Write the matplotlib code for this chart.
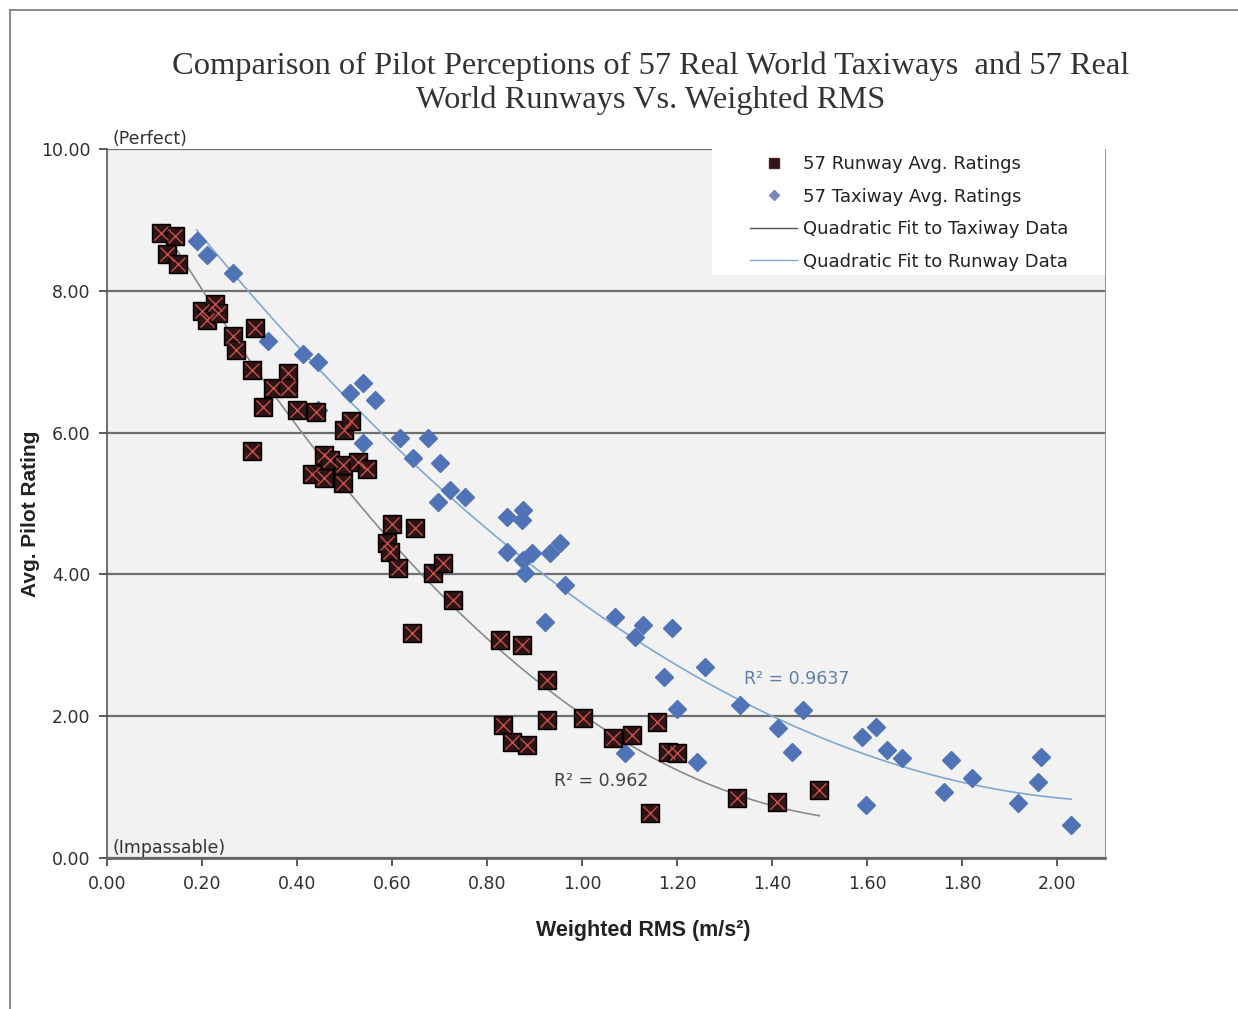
import matplotlib.pyplot as plt
from matplotlib.lines import Line2D
from matplotlib.patches import Rectangle
import numpy as np

# Runway ratings
runway_rms = [0.114, 0.143, 0.126, 0.149, 0.200, 0.227, 0.210, 0.233, 0.265, 0.271,
              0.311, 0.305, 0.349, 0.381, 0.381, 0.328, 0.400, 0.305, 0.440, 0.498,
              0.513, 0.431, 0.456, 0.456, 0.469, 0.496, 0.496, 0.528, 0.547, 0.599,
              0.648, 0.589, 0.595, 0.612, 0.686, 0.707, 0.728, 0.641, 0.826, 0.873,
              0.925, 0.833, 0.852, 0.883, 0.925, 1.001, 1.064, 1.104, 1.157, 1.180,
              1.199, 1.142, 1.325, 1.409, 1.499]
runway_rating = [8.82, 8.77, 8.52, 8.38, 7.72, 7.81, 7.59, 7.69, 7.36, 7.16,
                 7.48, 6.88, 6.63, 6.84, 6.63, 6.36, 6.32, 5.74, 6.29, 6.04,
                 6.16, 5.42, 5.36, 5.68, 5.61, 5.29, 5.54, 5.59, 5.49, 4.71,
                 4.65, 4.44, 4.32, 4.09, 4.02, 4.16, 3.64, 3.17, 3.07, 3.00,
                 2.51, 1.88, 1.64, 1.59, 1.95, 1.97, 1.69, 1.73, 1.92, 1.50,
                 1.48, 0.63, 0.85, 0.79, 0.96]

# Taxiway ratings
taxi_rms = [0.189, 0.210, 0.265, 0.339, 0.412, 0.444, 0.511, 0.538, 0.564, 0.444,
            0.538, 0.616, 0.675, 0.644, 0.700, 0.721, 0.696, 0.753, 0.841, 0.875,
            0.873, 0.841, 0.875, 0.894, 0.932, 0.953, 0.879, 0.963, 0.921, 1.068,
            1.127, 1.110, 1.188, 1.258, 1.173, 1.199, 1.089, 1.241, 1.331, 1.411,
            1.464, 1.441, 1.588, 1.619, 1.642, 1.672, 1.598, 1.777, 1.762, 1.821,
            1.916, 1.966, 1.958, 2.029]
taxi_rating = [8.70, 8.50, 8.25, 7.29, 7.11, 7.00, 6.56, 6.70, 6.46, 6.32,
               5.85, 5.92, 5.92, 5.64, 5.57, 5.19, 5.02, 5.09, 4.81, 4.91,
               4.77, 4.32, 4.20, 4.30, 4.30, 4.44, 4.02, 3.85, 3.33, 3.40,
               3.29, 3.12, 3.24, 2.69, 2.55, 2.10, 1.48, 1.35, 2.16, 1.83,
               2.09, 1.50, 1.71, 1.85, 1.52, 1.41, 0.75, 1.38, 0.93, 1.13,
               0.78, 1.42, 1.07, 0.47]

x_ticks = [0.0, 0.2, 0.4, 0.6, 0.8, 1.0, 1.2, 1.4, 1.6, 1.8, 2.0]
y_ticks = [0, 2, 4, 6, 8, 10]

RUNWAY_FACE = "#2e1414"
RUNWAY_X = "#c8504a"
TAXI_BLUE = "#4f73b6"
FIT_GREY = "#8a8a8a"
FIT_BLUE = "#7ea8d2"

fig = plt.figure(figsize=(12.38, 10.09), dpi=100)
ax = fig.add_axes([107 / 1238, 1 - 858 / 1009, 998 / 1238, 709 / 1009])
ax.set_facecolor("#f2f2f2")

# quadratic fits from the data
def quad_fit(x, y):
    coef = np.polyfit(x, y, 2)
    xs = np.linspace(min(x), max(x), 200)
    return xs, np.polyval(coef, xs)

rx, ry = quad_fit(runway_rms, runway_rating)
tx, ty = quad_fit(taxi_rms, taxi_rating)
ax.plot(rx, ry, color=FIT_GREY, lw=1.2, zorder=3)
ax.plot(tx, ty, color=FIT_BLUE, lw=1.2, zorder=3)

ax.plot(taxi_rms, taxi_rating, linestyle="none", marker="D", ms=9,
        color=TAXI_BLUE, mec=TAXI_BLUE, zorder=4)
ax.plot(runway_rms, runway_rating, linestyle="none", marker="s", ms=13,
        mfc=RUNWAY_FACE, mec="black", mew=1.0, zorder=5)
ax.plot(runway_rms, runway_rating, linestyle="none", marker="x", ms=10,
        color=RUNWAY_X, mew=1.0, zorder=6)

ax.set_xlim(0, 2.1)
ax.set_ylim(0, 10)
ax.set_xticks(x_ticks)
ax.set_xticklabels([f"{v:.2f}" for v in x_ticks])
ax.set_yticks(y_ticks)
ax.set_yticklabels([f"{v:.2f}" for v in y_ticks])
ax.tick_params(axis="both", labelsize=12.5, colors="#404040", length=6, width=1.2,
               labelcolor="#303030", pad=6)
ax.yaxis.grid(True, color="#6e6e6e", lw=1.6)
ax.set_axisbelow(True)
ax.spines["top"].set_visible(False)
ax.spines["right"].set_color("#999999")
ax.spines["left"].set_color("#555555")
ax.spines["bottom"].set_color("#666666")
ax.spines["bottom"].set_linewidth(2.0)
ax.spines["left"].set_linewidth(1.2)

ax.set_xlabel("Weighted RMS (m/s²)", family="Liberation Sans", fontweight="bold",
              fontsize=15.5, color="#222222")
ax.set_ylabel("Avg. Pilot Rating", family="Liberation Sans", fontweight="bold",
              fontsize=15, color="#222222")
ax.xaxis.set_label_coords((643 - 107) / 998, -(920 - 858) / 709)
ax.yaxis.set_label_coords(-(107 - 40) / 998, (858 - 514) / 709)

ax.text(0.012, 10.02, "(Perfect)", fontsize=12.5, color="#333333", va="bottom")
ax.text(0.012, 0.02, "(Impassable)", fontsize=12.5, color="#333333", va="bottom")

ax.text(1.34, 2.45, "R² = 0.9637", fontsize=12.5, color="#5a7fae")
ax.text(0.94, 1.02, "R² = 0.962", fontsize=12.5, color="#404040")

# legend box (white panel overlapping the plot area)
ax.add_patch(Rectangle((712 / 1238, 1 - 275 / 1009), 393 / 1238, 132 / 1009,
                       transform=fig.transFigure, facecolor="white", edgecolor="none",
                       clip_on=False, zorder=7))
handles = [
    Line2D([], [], linestyle="none", marker="s", ms=7, mfc=RUNWAY_FACE, mec="#502020"),
    Line2D([], [], linestyle="none", marker="D", ms=5, color="#7b86c0"),
    Line2D([], [], color="#555555", lw=1.0),
    Line2D([], [], color=FIT_BLUE, lw=1.0),
]
labels = ["57 Runway Avg. Ratings", "57 Taxiway Avg. Ratings",
          "Quadratic Fit to Taxiway Data", "Quadratic Fit to Runway Data"]
leg = ax.legend(handles, labels, loc="upper left", bbox_to_anchor=(743 / 1238, 1 - 148 / 1009),
                bbox_transform=fig.transFigure, frameon=False, fontsize=13,
                handlelength=2.6, handletextpad=0.35, labelspacing=0.8, borderaxespad=0)
leg.set_zorder(8)
for t in leg.get_texts():
    t.set_color("#222222")

fig.text(651 / 1238, 1 - 83 / 1009,
         "Comparison of Pilot Perceptions of 57 Real World Taxiways  and 57 Real\n"
         "World Runways Vs. Weighted RMS",
         ha="center", va="center", family="Liberation Serif", fontsize=23.4,
         color="#333333", linespacing=1.18)

# outer frame of the chart object (top and left edges visible)
fig.add_artist(Line2D([10 / 1238, 1], [1 - 10 / 1009, 1 - 10 / 1009],
                      transform=fig.transFigure, color="#777777", lw=1.2))
fig.add_artist(Line2D([10 / 1238, 10 / 1238], [0, 1 - 10 / 1009],
                      transform=fig.transFigure, color="#777777", lw=1.2))

fig.savefig("out.png", dpi=100)
